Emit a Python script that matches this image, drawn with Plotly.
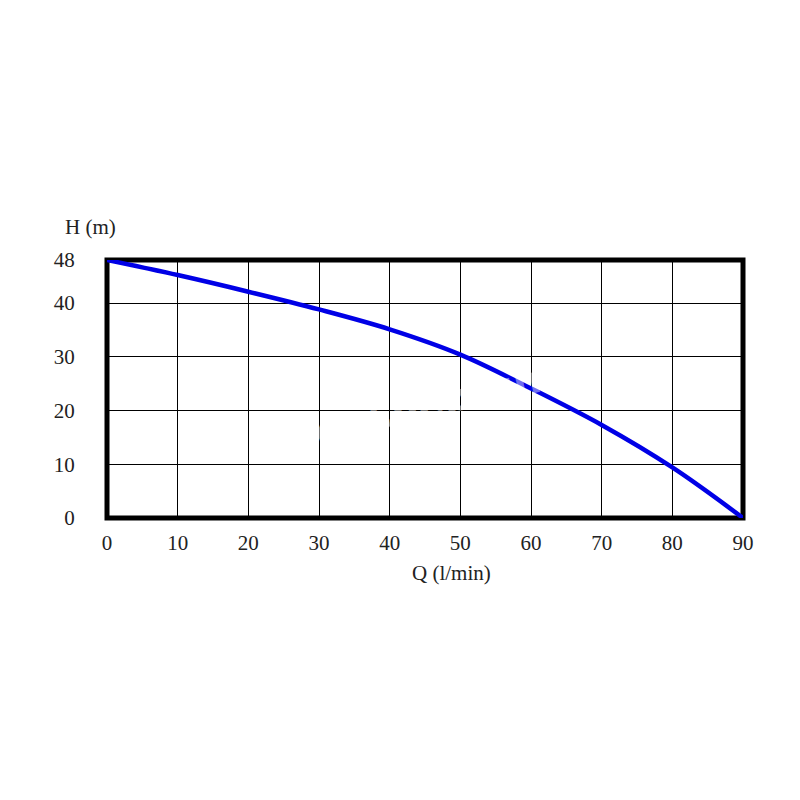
import plotly.graph_objects as go

# Pump curve data
flow_q = [0, 10, 20, 30, 40, 50, 60, 70, 80, 90]          # Q (l/min)
head_h = [48, 45.2, 42.1, 38.8, 35.1, 30.4, 24.1, 17.3, 9.4, 0]  # H (m)

x_ticks = [0, 10, 20, 30, 40, 50, 60, 70, 80, 90]
y_ticks = [0, 10, 20, 30, 40, 48]
y_tick_text = ["0", "10", "20", "30", "40", "48"]

FONT = "Liberation Serif, Times New Roman, serif"
FS = 21
TXT = "#222222"

fig = go.Figure()
fig.add_trace(go.Scatter(
    x=flow_q, y=head_h, mode="lines",
    line=dict(color="#0000e6", width=4.5, shape="spline", smoothing=1.0),
    hoverinfo="skip", showlegend=False,
))

fig.update_layout(
    width=800, height=800,
    paper_bgcolor="white", plot_bgcolor="white",
    margin=dict(l=98.5, r=65.3, t=252, b=290.3, autoexpand=False),
    font=dict(family=FONT, size=FS, color=TXT),
    shapes=[dict(type="rect", xref="paper", yref="paper", x0=0, y0=0, x1=1, y1=1,
                 line=dict(color="black", width=5), layer="below")],
    annotations=[
        dict(text="H (m)", xref="paper", yref="paper", x=-0.026, y=1.128,
             showarrow=False, font=dict(family=FONT, size=FS, color=TXT),
             xanchor="center", yanchor="middle"),
        dict(text="Q (l/min)", xref="paper", yref="paper", x=0.5415, y=-0.2146,
             showarrow=False, font=dict(family=FONT, size=FS, color=TXT),
             xanchor="center", yanchor="middle"),
        dict(text="<b>www.neptun.cz</b>", xref="paper", yref="paper", x=0.52, y=0.45,
             showarrow=False, textangle=-13,
             font=dict(family="DejaVu Sans", size=38, color="rgba(255,255,255,0.45)"),
             xanchor="center", yanchor="middle"),
    ],
)

fig.update_xaxes(
    range=[0, 90], tickvals=x_ticks, showgrid=True, gridcolor="black", gridwidth=1,
    zeroline=False, showline=False, ticks="outside", ticklen=6, tickcolor="rgba(0,0,0,0)",
    tickfont=dict(family=FONT, size=FS, color=TXT), fixedrange=True,
)
fig.update_yaxes(
    range=[0, 48], tickvals=y_ticks, ticktext=y_tick_text, showgrid=True,
    gridcolor="black", gridwidth=1, zeroline=False, showline=False,
    ticks="outside", ticklen=27, tickcolor="rgba(0,0,0,0)",
    tickfont=dict(family=FONT, size=FS, color=TXT), fixedrange=True,
)

fig.write_html("out.html")
